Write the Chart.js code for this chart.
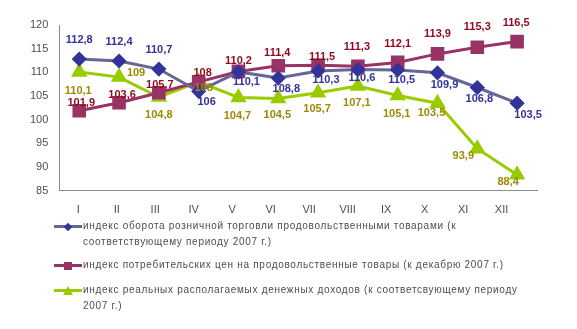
<!DOCTYPE html>
<html lang="ru">
<head>
<meta charset="UTF-8">
<title>Индексы 2008</title>
<script src="https://cdn.jsdelivr.net/npm/chart.js@4.4.1/dist/chart.umd.min.js"></script>
<style>
    body {
        margin: 0;
        background: #fff;
        font-family: "Liberation Sans", Arial, sans-serif;
    }
    .wrap {
        position: relative;
        width: 577px;
        height: 329px;
        overflow: hidden;
    }
    .plot {
        position: absolute;
        left: 0;
        top: 0;
        width: 577px;
        height: 235px;
    }
    #legend {
        position: absolute;
        left: 54px;
        top: 218px;
        width: 484px;
        color: #4d4d4d;
        font-size: 10px;
        letter-spacing: 0.7px;
        line-height: 16px;
    }
    .item {
        position: relative;
        padding-left: 29px;
        margin-bottom: 7px;
    }
    .item:last-child {
        margin-top: 9px;
    }
    .sym {
        position: absolute;
        left: 0;
        top: 7px;
        width: 28px;
        height: 3px;
    }
    .mk {
        position: absolute;
        left: 50%;
        top: 50%;
    }
</style>
</head>
<body>
<div class="wrap">
    <div class="plot"><canvas id="chart"></canvas></div>
    <div id="legend"></div>
</div>
<script>
    // месяцы 2008 г.
    const months = ['I', 'II', 'III', 'IV', 'V', 'VI', 'VII', 'VIII', 'IX', 'X', 'XI', 'XII'];

    const seriesNames = [
        'индекс оборота розничной торговли продовольственными товарами (к соответствующему периоду 2007 г.)',
        'индекс потребительских цен на продовольственные товары (к декабрю 2007 г.)',
        'индекс реальных располагаемых денежных доходов (к соответсвующему периоду 2007 г.)'
    ];

    const retail = [112.8, 112.4, 110.7, 106, 110.1, 108.8, 110.3, 110.6, 110.5, 109.9, 106.8, 103.5];
    const prices = [101.9, 103.6, 105.7, 108, 110.2, 111.4, 111.5, 111.3, 112.1, 113.9, 115.3, 116.5];
    const income = [110.1, 109, 104.8, 108, 104.7, 104.5, 105.7, 107.1, 105.1, 103.5, 93.9, 88.4];

    const yTicks = [85, 90, 95, 100, 105, 110, 115, 120];

    // сдвиги подписей значений относительно маркеров [dx, dy]
    const labelShift = [
        [[0,-19],[0,-19],[0,-19],[8,11],[8,10],[8,11],[8,9],[4,8],[4,10],[7,12],[2,11],[11,12]],
        [[2,-8],[3,-8],[1,-8],[4,-9],[0,-10],[-1,-13],[4,-8],[-1,-19],[0,-18],[0,-20],[0,-20],[-1,-19]],
        [[-1,19],[17,-4],[0,18],[5,6],[-1,18],[-1,17],[-1,16],[-1,17],[-1,18],[-6,10],[-14,7],[-9,7]]
    ];
    const labelColors = ['#333399', '#8e0b1f', '#9c8a08'];

    const valueLabels = {
        id: 'valueLabels',
        afterDatasetsDraw(chart) {
            const ctx = chart.ctx;
            ctx.save();
            ctx.font = 'bold 11px "Liberation Sans", Arial, sans-serif';
            ctx.textAlign = 'center';
            ctx.textBaseline = 'middle';
            chart.data.datasets.forEach((ds, i) => {
                const meta = chart.getDatasetMeta(i);
                ctx.fillStyle = labelColors[i];
                meta.data.forEach((pt, j) => {
                    const [dx, dy] = labelShift[i][j];
                    ctx.fillText(String(ds.data[j]).replace('.', ','), pt.x + dx, pt.y + dy);
                });
            });
            ctx.restore();
        }
    };

    const chart = new Chart(document.getElementById('chart'), {
        type: 'line',
        data: {
            labels: months,
            datasets: [
                {
                    label: seriesNames[0],
                    data: retail,
                    borderColor: '#666699',
                    backgroundColor: '#333399',
                    pointBackgroundColor: '#333399',
                    pointBorderColor: '#333399',
                    pointStyle: 'rectRot',
                    pointRadius: 5.5,
                    borderWidth: 3,
                    tension: 0
                },
                {
                    label: seriesNames[1],
                    data: prices,
                    borderColor: '#993366',
                    backgroundColor: '#993366',
                    pointBackgroundColor: '#993366',
                    pointBorderColor: '#993366',
                    pointStyle: 'rect',
                    pointRadius: 7.5,
                    borderWidth: 3,
                    tension: 0
                },
                {
                    label: seriesNames[2],
                    data: income,
                    borderColor: '#99cc00',
                    backgroundColor: '#99cc00',
                    pointBackgroundColor: '#99cc00',
                    pointBorderColor: '#99cc00',
                    pointStyle: 'triangle',
                    pointRadius: 6.5,
                    borderWidth: 3,
                    tension: 0
                }
            ]
        },
        options: {
            responsive: true,
            maintainAspectRatio: false,
            animation: false,
            layout: { padding: { left: 19, right: 40, top: 25, bottom: 5 } },
            plugins: {
                legend: { display: false },
                tooltip: { enabled: false }
            },
            scales: {
                x: {
                    type: 'category',
                    display: false,
                    offset: true
                },
                // подписи месяцев
                xt: {
                    type: 'linear',
                    position: 'bottom',
                    min: -0.49,
                    max: 11.92,
                    grid: { display: false, drawTicks: false },
                    border: { display: true, color: '#8c8c8c', width: 1 },
                    ticks: {
                        stepSize: 1,
                        includeBounds: false,
                        autoSkip: false,
                        maxRotation: 0,
                        padding: 13,
                        color: '#4d4d4d',
                        font: { size: 11, family: '"Liberation Sans", Arial, sans-serif' },
                        callback: v => Number.isInteger(v) ? (months[v] || '') : ''
                    }
                },
                y: {
                    min: 85,
                    max: 120,
                    afterBuildTicks: axis => { axis.ticks = yTicks.map(v => ({ value: v })); },
                    grid: { display: false, drawTicks: false },
                    border: { display: true, color: '#8c8c8c', width: 1 },
                    ticks: {
                        padding: 11,
                        color: '#4d4d4d',
                        font: { size: 11, family: '"Liberation Sans", Arial, sans-serif' }
                    }
                }
            }
        },
        plugins: [valueLabels]
    });

    // легенда под графиком
    const legend = document.getElementById('legend');
    chart.data.datasets.forEach(ds => {
        const item = document.createElement('div');
        item.className = 'item';
        const sym = document.createElement('span');
        sym.className = 'sym';
        sym.style.background = ds.borderColor;
        const mk = document.createElement('span');
        mk.className = 'mk';
        if (ds.pointStyle === 'rectRot') {
            mk.style.cssText += 'width:6px;height:6px;margin:-3px 0 0 -3px;transform:rotate(45deg);background:' + ds.pointBackgroundColor;
        } else if (ds.pointStyle === 'rect') {
            mk.style.cssText += 'width:8px;height:8px;margin:-4px 0 0 -4px;background:' + ds.pointBackgroundColor;
        } else {
            mk.style.cssText += 'width:0;height:0;margin:-5px 0 0 -5px;border-left:5px solid transparent;border-right:5px solid transparent;border-bottom:9px solid ' + ds.pointBackgroundColor;
        }
        sym.appendChild(mk);
        item.appendChild(sym);
        item.appendChild(document.createTextNode(ds.label));
        legend.appendChild(item);
    });
</script>
</body>
</html>
